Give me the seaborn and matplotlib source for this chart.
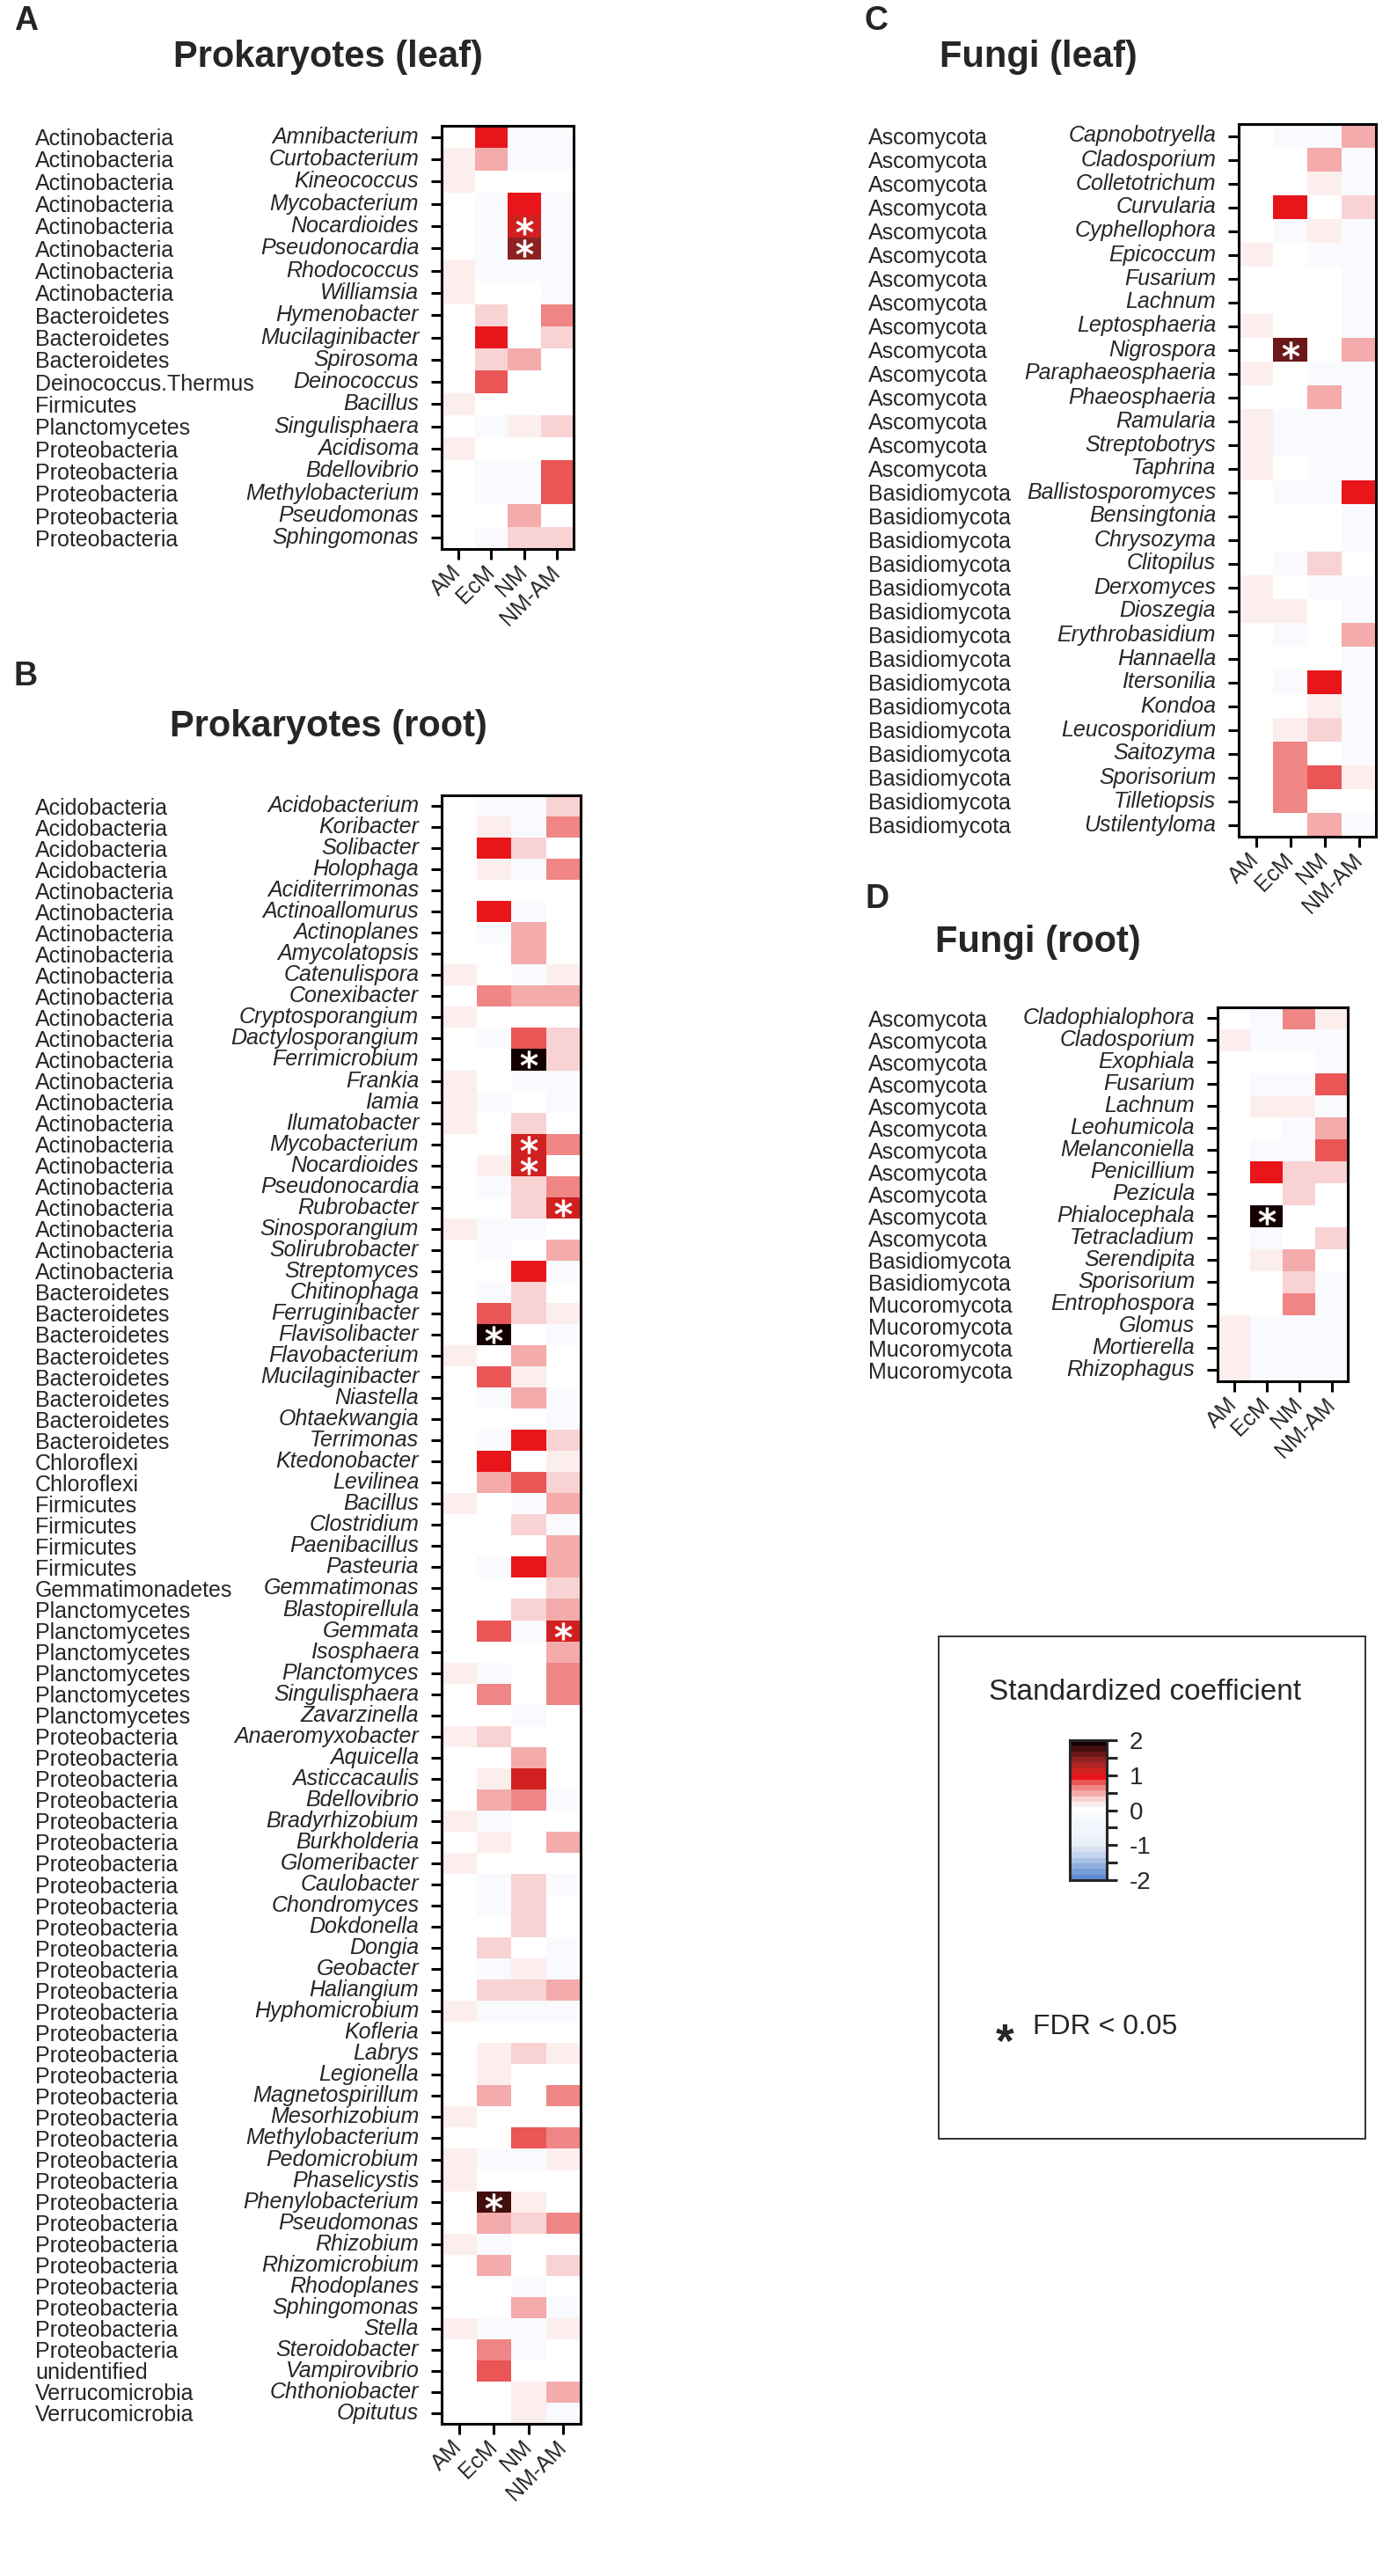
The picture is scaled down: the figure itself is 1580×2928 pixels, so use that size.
import numpy as np
import pandas as pd
import matplotlib as mpl
import matplotlib.pyplot as plt
from matplotlib import transforms, patches
from matplotlib.colors import LinearSegmentedColormap
import seaborn as sns

sns.set_style('ticks')
plt.rcParams['font.family'] = ['Liberation Sans', 'DejaVu Sans']

W, H = 1580, 2928
cols = ['AM', 'EcM', 'NM', 'NM-AM']

# ---- panel A : Prokaryotes (leaf)
a_phylum = ['Actinobacteria', 'Actinobacteria', 'Actinobacteria', 'Actinobacteria', 'Actinobacteria',
            'Actinobacteria', 'Actinobacteria', 'Actinobacteria', 'Bacteroidetes', 'Bacteroidetes',
            'Bacteroidetes', 'Deinococcus.Thermus', 'Firmicutes', 'Planctomycetes', 'Proteobacteria',
            'Proteobacteria', 'Proteobacteria', 'Proteobacteria', 'Proteobacteria']
a_genus = ['Amnibacterium', 'Curtobacterium', 'Kineococcus', 'Mycobacterium', 'Nocardioides',
           'Pseudonocardia', 'Rhodococcus', 'Williamsia', 'Hymenobacter', 'Mucilaginibacter',
           'Spirosoma', 'Deinococcus', 'Bacillus', 'Singulisphaera', 'Acidisoma',
           'Bdellovibrio', 'Methylobacterium', 'Pseudomonas', 'Sphingomonas']
# AM, EcM, NM, NM-AM
a_values = [[0.0, 0.95, -0.2, -0.2], [0.1, 0.42, -0.1, -0.1], [0.12, 0.0, 0.0, 0.0],
            [0.0, -0.2, 0.95, -0.2], [0.0, -0.2, 1.10, -0.2], [0.0, -0.2, 1.50, -0.2],
            [0.15, -0.2, -0.2, -0.2], [0.15, 0.0, 0.0, -0.2], [0.0, 0.38, 0.0, 0.70],
            [0.0, 1.00, 0.0, 0.30], [0.0, 0.25, 0.40, 0.0], [0.0, 0.85, 0.0, 0.0],
            [0.1, 0.0, 0.0, 0.0], [0.0, -0.2, 0.20, 0.35], [0.15, 0.0, 0.0, 0.0],
            [0.0, -0.2, -0.2, 0.85], [0.0, -0.2, -0.2, 0.80], [0.0, 0.0, 0.50, 0.0],
            [0.0, -0.1, 0.25, 0.25]]
a_sig = [('Nocardioides', 'NM'), ('Pseudonocardia', 'NM')]

# ---- panel B : Prokaryotes (root)
b_phylum = ['Acidobacteria', 'Acidobacteria', 'Acidobacteria', 'Acidobacteria',
            'Actinobacteria', 'Actinobacteria', 'Actinobacteria', 'Actinobacteria', 'Actinobacteria',
            'Actinobacteria', 'Actinobacteria', 'Actinobacteria', 'Actinobacteria', 'Actinobacteria',
            'Actinobacteria', 'Actinobacteria', 'Actinobacteria', 'Actinobacteria', 'Actinobacteria',
            'Actinobacteria', 'Actinobacteria', 'Actinobacteria', 'Actinobacteria',
            'Bacteroidetes', 'Bacteroidetes', 'Bacteroidetes', 'Bacteroidetes', 'Bacteroidetes',
            'Bacteroidetes', 'Bacteroidetes', 'Bacteroidetes',
            'Chloroflexi', 'Chloroflexi',
            'Firmicutes', 'Firmicutes', 'Firmicutes', 'Firmicutes',
            'Gemmatimonadetes',
            'Planctomycetes', 'Planctomycetes', 'Planctomycetes', 'Planctomycetes', 'Planctomycetes',
            'Planctomycetes',
            'Proteobacteria', 'Proteobacteria', 'Proteobacteria', 'Proteobacteria', 'Proteobacteria',
            'Proteobacteria', 'Proteobacteria', 'Proteobacteria', 'Proteobacteria', 'Proteobacteria',
            'Proteobacteria', 'Proteobacteria', 'Proteobacteria', 'Proteobacteria', 'Proteobacteria',
            'Proteobacteria', 'Proteobacteria', 'Proteobacteria', 'Proteobacteria', 'Proteobacteria',
            'Proteobacteria', 'Proteobacteria', 'Proteobacteria', 'Proteobacteria', 'Proteobacteria',
            'Proteobacteria', 'Proteobacteria', 'Proteobacteria', 'Proteobacteria', 'Proteobacteria',
            'unidentified', 'Verrucomicrobia', 'Verrucomicrobia']
b_genus = ['Acidobacterium', 'Koribacter', 'Solibacter', 'Holophaga',
           'Aciditerrimonas', 'Actinoallomurus', 'Actinoplanes', 'Amycolatopsis', 'Catenulispora',
           'Conexibacter', 'Cryptosporangium', 'Dactylosporangium', 'Ferrimicrobium', 'Frankia',
           'Iamia', 'Ilumatobacter', 'Mycobacterium', 'Nocardioides', 'Pseudonocardia',
           'Rubrobacter', 'Sinosporangium', 'Solirubrobacter', 'Streptomyces',
           'Chitinophaga', 'Ferruginibacter', 'Flavisolibacter', 'Flavobacterium', 'Mucilaginibacter',
           'Niastella', 'Ohtaekwangia', 'Terrimonas',
           'Ktedonobacter', 'Levilinea',
           'Bacillus', 'Clostridium', 'Paenibacillus', 'Pasteuria',
           'Gemmatimonas',
           'Blastopirellula', 'Gemmata', 'Isosphaera', 'Planctomyces', 'Singulisphaera',
           'Zavarzinella',
           'Anaeromyxobacter', 'Aquicella', 'Asticcacaulis', 'Bdellovibrio', 'Bradyrhizobium',
           'Burkholderia', 'Glomeribacter', 'Caulobacter', 'Chondromyces', 'Dokdonella',
           'Dongia', 'Geobacter', 'Haliangium', 'Hyphomicrobium', 'Kofleria',
           'Labrys', 'Legionella', 'Magnetospirillum', 'Mesorhizobium', 'Methylobacterium',
           'Pedomicrobium', 'Phaselicystis', 'Phenylobacterium', 'Pseudomonas', 'Rhizobium',
           'Rhizomicrobium', 'Rhodoplanes', 'Sphingomonas', 'Stella', 'Steroidobacter',
           'Vampirovibrio', 'Chthoniobacter', 'Opitutus']
b_values = [[0.0, -0.1, -0.2, 0.25], [0.0, 0.15, -0.2, 0.60], [0.0, 0.90, 0.25, 0.0],
            [0.0, 0.20, -0.2, 0.60], [0.0, 0.0, 0.0, 0.0], [0.0, 0.95, -0.2, 0.0],
            [0.0, -0.2, 0.55, 0.0], [0.0, 0.0, 0.55, 0.0], [0.1, 0.0, -0.2, 0.20],
            [0.0, 0.60, 0.40, 0.40], [0.15, 0.0, 0.0, 0.0], [0.0, -0.2, 0.80, 0.25],
            [0.0, 0.0, 1.90, 0.25], [0.15, 0.0, -0.1, -0.2], [0.15, -0.2, 0.0, -0.2],
            [0.1, 0.0, 0.35, 0.0], [0.0, 0.0, 1.10, 0.60], [0.0, 0.20, 1.10, 0.0],
            [0.0, -0.2, 0.25, 0.60], [0.0, 0.0, 0.35, 1.10], [0.15, -0.2, -0.1, 0.0],
            [0.0, -0.2, 0.0, 0.55], [0.0, 0.0, 0.95, -0.2],
            [0.0, -0.2, 0.35, 0.0], [0.0, 0.75, 0.35, 0.12], [0.0, 1.90, 0.0, -0.2],
            [0.1, 0.0, 0.45, 0.0], [0.0, 0.85, 0.12, 0.0], [0.0, -0.2, 0.40, -0.2],
            [0.0, 0.0, 0.0, -0.2], [0.0, -0.2, 0.90, 0.35],
            [0.0, 0.95, 0.0, 0.12], [0.0, 0.45, 0.85, 0.35],
            [0.1, 0.0, -0.2, 0.55], [0.0, 0.0, 0.25, -0.2], [0.0, 0.0, 0.0, 0.50],
            [0.0, -0.2, 0.90, 0.55],
            [0.0, 0.0, 0.0, 0.25],
            [0.0, 0.0, 0.35, 0.50], [0.0, 0.82, -0.2, 1.10], [0.0, 0.0, 0.0, 0.50],
            [0.1, -0.1, 0.0, 0.65], [0.0, 0.65, 0.0, 0.65], [0.0, 0.0, -0.2, 0.0],
            [0.1, 0.25, 0.0, 0.0], [0.0, 0.0, 0.55, 0.0], [0.0, 0.12, 1.05, 0.0],
            [0.0, 0.45, 0.65, -0.2], [0.15, -0.2, 0.0, 0.0], [0.0, 0.12, 0.0, 0.50],
            [0.15, 0.0, 0.0, 0.0], [0.0, -0.2, 0.35, -0.2], [0.0, -0.2, 0.35, 0.0],
            [0.0, 0.0, 0.35, 0.0], [0.0, 0.35, 0.0, -0.2], [0.0, -0.2, 0.12, -0.1],
            [0.0, 0.25, 0.25, 0.40], [0.15, -0.2, -0.2, -0.1], [0.0, 0.0, 0.0, 0.0],
            [0.0, 0.20, 0.30, 0.10], [0.0, 0.12, 0.0, 0.0], [0.0, 0.45, 0.0, 0.70],
            [0.1, 0.0, 0.0, 0.0], [0.0, 0.0, 0.80, 0.60], [0.12, -0.2, -0.2, 0.20],
            [0.12, 0.0, 0.0, 0.0], [0.0, 1.80, 0.12, 0.0], [0.0, 0.45, 0.30, 0.65],
            [0.1, -0.2, 0.0, 0.0], [0.0, 0.50, 0.0, 0.25], [0.0, 0.0, -0.2, 0.0],
            [0.0, 0.0, 0.45, -0.2], [0.12, -0.2, -0.2, 0.20], [0.0, 0.70, -0.2, 0.0],
            [0.0, 0.75, 0.0, 0.0], [0.0, 0.0, 0.20, 0.50], [0.0, 0.0, 0.20, -0.2]]
b_sig = [('Ferrimicrobium', 'NM'), ('Mycobacterium', 'NM'), ('Nocardioides', 'NM'),
         ('Rubrobacter', 'NM-AM'), ('Flavisolibacter', 'EcM'), ('Gemmata', 'NM-AM'),
         ('Phenylobacterium', 'EcM')]

# ---- panel C : Fungi (leaf)
c_phylum = ['Ascomycota', 'Ascomycota', 'Ascomycota', 'Ascomycota', 'Ascomycota',
            'Ascomycota', 'Ascomycota', 'Ascomycota', 'Ascomycota', 'Ascomycota',
            'Ascomycota', 'Ascomycota', 'Ascomycota', 'Ascomycota', 'Ascomycota',
            'Basidiomycota', 'Basidiomycota', 'Basidiomycota', 'Basidiomycota', 'Basidiomycota',
            'Basidiomycota', 'Basidiomycota', 'Basidiomycota', 'Basidiomycota', 'Basidiomycota',
            'Basidiomycota', 'Basidiomycota', 'Basidiomycota', 'Basidiomycota', 'Basidiomycota']
c_genus = ['Capnobotryella', 'Cladosporium', 'Colletotrichum', 'Curvularia', 'Cyphellophora',
           'Epicoccum', 'Fusarium', 'Lachnum', 'Leptosphaeria', 'Nigrospora',
           'Paraphaeosphaeria', 'Phaeosphaeria', 'Ramularia', 'Streptobotrys', 'Taphrina',
           'Ballistosporomyces', 'Bensingtonia', 'Chrysozyma', 'Clitopilus', 'Derxomyces',
           'Dioszegia', 'Erythrobasidium', 'Hannaella', 'Itersonilia', 'Kondoa',
           'Leucosporidium', 'Saitozyma', 'Sporisorium', 'Tilletiopsis', 'Ustilentyloma']
c_values = [[0.0, -0.1, -0.1, 0.45], [0.0, 0.0, 0.45, -0.2], [0.0, 0.0, 0.20, -0.1],
            [0.0, 0.90, 0.0, 0.38], [0.0, -0.2, 0.12, -0.1], [0.15, 0.0, -0.2, -0.1],
            [0.0, 0.0, 0.0, -0.1], [0.0, 0.0, 0.0, -0.1], [0.12, 0.0, 0.0, -0.1],
            [0.0, 1.65, 0.0, 0.45], [0.15, 0.0, -0.1, -0.1], [0.0, 0.0, 0.45, -0.1],
            [0.15, -0.2, -0.2, -0.2], [0.15, -0.2, -0.2, -0.2], [0.15, 0.0, -0.2, -0.2],
            [0.0, -0.2, -0.1, 0.90], [0.0, 0.0, 0.0, -0.1], [0.0, 0.0, 0.0, -0.2],
            [0.0, -0.1, 0.30, 0.0], [0.12, 0.0, -0.1, -0.1], [0.12, 0.12, 0.0, -0.1],
            [0.0, -0.2, 0.0, 0.42], [0.0, 0.0, 0.0, -0.1], [0.0, -0.2, 0.95, -0.1],
            [0.0, 0.0, 0.12, -0.1], [0.0, 0.15, 0.30, -0.1], [0.0, 0.65, 0.0, -0.2],
            [0.0, 0.65, 0.85, 0.15], [0.0, 0.65, 0.0, 0.0], [0.0, 0.0, 0.42, -0.1]]
c_sig = [('Nigrospora', 'EcM')]

# ---- panel D : Fungi (root)
d_phylum = ['Ascomycota', 'Ascomycota', 'Ascomycota', 'Ascomycota', 'Ascomycota',
            'Ascomycota', 'Ascomycota', 'Ascomycota', 'Ascomycota', 'Ascomycota',
            'Ascomycota', 'Basidiomycota', 'Basidiomycota', 'Mucoromycota', 'Mucoromycota',
            'Mucoromycota', 'Mucoromycota']
d_genus = ['Cladophialophora', 'Cladosporium', 'Exophiala', 'Fusarium', 'Lachnum',
           'Leohumicola', 'Melanconiella', 'Penicillium', 'Pezicula', 'Phialocephala',
           'Tetracladium', 'Serendipita', 'Sporisorium', 'Entrophospora', 'Glomus',
           'Mortierella', 'Rhizophagus']
d_values = [[0.0, -0.1, 0.67, 0.10], [0.12, -0.2, -0.1, -0.1], [0.0, 0.0, 0.0, -0.1],
            [0.0, -0.1, -0.1, 0.72], [0.0, 0.20, 0.15, -0.1], [0.0, 0.0, -0.1, 0.50],
            [0.0, -0.1, -0.1, 0.82], [0.0, 0.90, 0.38, 0.38], [0.0, 0.0, 0.30, 0.0],
            [0.0, 2.00, 0.0, 0.0], [0.0, -0.2, 0.0, 0.30], [0.0, 0.22, 0.48, 0.0],
            [0.0, 0.0, 0.28, -0.1], [0.0, 0.0, 0.65, -0.1], [0.12, -0.2, -0.2, -0.2],
            [0.12, -0.2, -0.1, -0.1], [0.12, -0.2, -0.1, -0.1]]
d_sig = [('Phialocephala', 'EcM')]

# colour scale: blue - white - red - black, stepped like the original key
cmap_nodes = [(-2.0, '#5f8dd2'), (-1.667, '#8eadde'), (-1.333, '#c3d4ed'), (-1.0, '#e9eff8'),
              (-0.667, '#f1f5fb'), (-0.333, '#f4f7fc'), (-0.167, '#f8fafd'), (0.0, '#ffffff'),
              (0.167, '#fdeeee'), (0.333, '#f9d3d3'), (0.5, '#f4abab'), (0.667, '#ef8585'),
              (0.833, '#ea5555'), (1.0, '#e8151b'), (1.167, '#d0201f'), (1.333, '#b02424'),
              (1.5, '#8e2222'), (1.667, '#6a1818'), (1.833, '#420d0d'), (2.0, '#140000')]
cmap = LinearSegmentedColormap.from_list(
    'coef', [((v + 2) / 4, c) for v, c in cmap_nodes], N=25)

fig = plt.figure(figsize=(W / 100, H / 100), dpi=100)


def px_rect(x0, y0, x1, y1):
    # pixel box (top-left origin) -> figure fraction
    return [x0 / W, 1 - y1 / H, (x1 - x0) / W, (y1 - y0) / H]


def draw_panel(box, phylum, genus, values, sig, title, title_xy, letter, letter_xy, phylum_x):
    ax = fig.add_axes(px_rect(*box))
    df = pd.DataFrame(values, index=genus, columns=cols)
    sns.heatmap(df, ax=ax, cmap=cmap, vmin=-2, vmax=2, cbar=False,
                xticklabels=True, yticklabels=True)
    # FDR < 0.05 cells
    for g, c in sig:
        ax.scatter(cols.index(c) + 0.5, genus.index(g) + 0.5, marker='$*$', s=190,
                   color='white', edgecolors='white', linewidths=0.8, zorder=5)
    ax.set_xlim(0, len(cols))
    ax.set_ylim(len(genus), 0)
    for sp in ax.spines.values():
        sp.set_visible(True)
        sp.set_linewidth(2.2)
        sp.set_color('black')
    ax.tick_params(axis='both', length=8.6, width=2.2, labelsize=18, color='black')
    ax.tick_params(axis='y', pad=10)
    ax.tick_params(axis='x', pad=8)
    ax.set_yticklabels(genus, rotation=0, fontstyle='italic')
    ax.set_xticklabels(cols, rotation=45, ha='right', va='center', rotation_mode='anchor')
    ax.set_xlabel('')
    ax.set_ylabel('')
    trans = transforms.blended_transform_factory(fig.transFigure, ax.transData)
    for i, p in enumerate(phylum):
        ax.text(phylum_x / W, i + 0.5, p, transform=trans, ha='left',
                va='center_baseline', fontsize=18)
    fig.text(title_xy[0] / W, 1 - title_xy[1] / H, title, ha='center', va='center',
             fontsize=30, fontweight='bold')
    fig.text(letter_xy[0] / W, 1 - letter_xy[1] / H, letter, ha='left', va='center',
             fontsize=27, fontweight='bold')
    return ax


draw_panel((502, 143, 652, 624), a_phylum, a_genus, a_values, a_sig,
           'Prokaryotes (leaf)', (373, 65), 'A', (16, 24), 40)
draw_panel((502, 904, 660, 2755), b_phylum, b_genus, b_values, b_sig,
           'Prokaryotes (root)', (373, 826), 'B', (16, 769), 40)
draw_panel((1408, 141, 1564, 951), c_phylum, c_genus, c_values, c_sig,
           'Fungi (leaf)', (1180, 65), 'C', (983, 24), 987)
draw_panel((1384, 1145, 1532, 1570), d_phylum, d_genus, d_values, d_sig,
           'Fungi (root)', (1180, 1071), 'D', (983, 1022), 987)

# legend box with colour key
fig.patches.append(patches.Rectangle((1067 / W, 1 - 2431 / H), (1552 - 1067) / W,
                                     (2431 - 1860) / H, transform=fig.transFigure,
                                     fill=False, lw=1.3, edgecolor='#222222'))
fig.text(1302 / W, 1 - 1923 / H, 'Standardized coefficient', ha='center', va='center',
         fontsize=24)
cax = fig.add_axes(px_rect(1216, 1978, 1258, 2137))
sm = mpl.cm.ScalarMappable(norm=mpl.colors.Normalize(-2, 2), cmap=cmap)
cb = fig.colorbar(sm, cax=cax, ticks=[-2, -1.5, -1, -0.5, 0, 0.5, 1, 1.5, 2])
cb.set_ticklabels(['-2', '', '-1', '', '0', '', '1', '', '2'])
cb.outline.set_linewidth(2.2)
cax.tick_params(length=8.6, width=2.2, labelsize=20, pad=10)

fig.text(1142 / W, 1 - 2338 / H, '*', ha='center', va='baseline', fontsize=38,
         fontweight='bold')
fig.text(1174 / W, 1 - 2304 / H, 'FDR < 0.05', ha='left', va='center', fontsize=23)

plt.savefig('out.png', dpi=100)
